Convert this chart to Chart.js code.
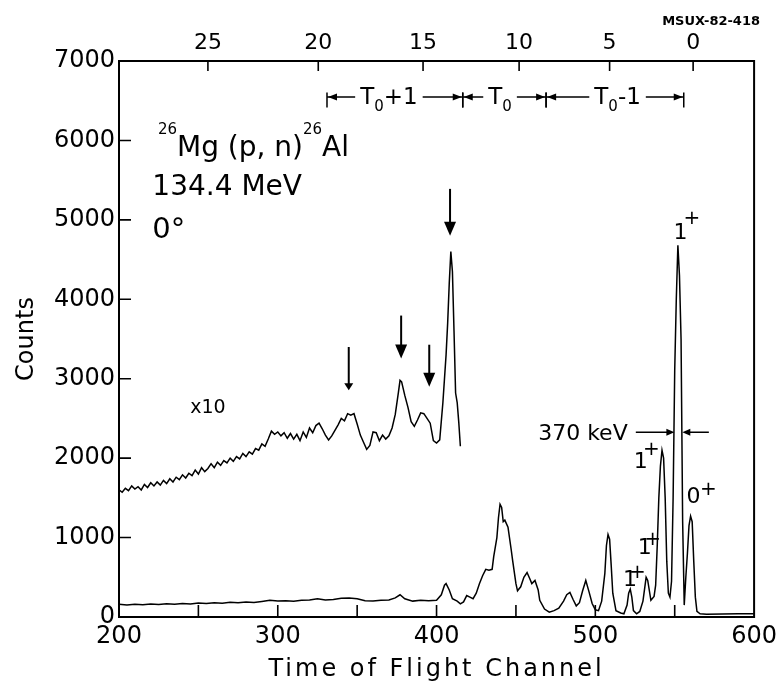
<!DOCTYPE html>
<html><head><meta charset="utf-8">
<script src="https://cdn.jsdelivr.net/npm/chart.js@4.4.0/dist/chart.umd.min.js"></script>
<style>html,body{margin:0;padding:0;background:#fff}canvas{display:block}</style>
</head><body>
<canvas id="c" width="782" height="692" style="width:782px;height:692px"></canvas>
<script>
// ---- data ----
const x10Channels = [200,202,204,206,208,210,212,214,216,218,220,222,224,226,228,230,232,234,236,238,240,242,244,246,248,250,252,254,256,258,260,262,264,266,268,270,272,274,276,278,280,282,284,286,288,290,292,294,296,298,300,302,304,306,308,310,312,314,316,318,320,322,324,326,328,330,332,334,336,338,340,342,344,346,348,350,352,354,356,358,360,362,364,366,368,370,372,374,376,377,378,380,382,384,386,388,390,392,394,396,398,400,402,404,406,407,408,409,410,411,412,413,414,415];
const x10Counts = [1600,1570,1620,1590,1650,1610,1640,1600,1670,1630,1690,1650,1700,1660,1720,1680,1740,1700,1760,1730,1790,1750,1810,1780,1850,1800,1880,1830,1870,1930,1880,1950,1910,1970,1940,2000,1960,2020,1990,2060,2020,2080,2050,2120,2100,2180,2150,2240,2340,2300,2330,2280,2320,2250,2310,2240,2300,2220,2330,2260,2380,2320,2410,2440,2370,2290,2230,2280,2350,2420,2500,2470,2560,2540,2560,2430,2290,2200,2110,2160,2330,2320,2220,2290,2240,2280,2380,2550,2830,2980,2960,2790,2640,2460,2400,2480,2570,2560,2500,2440,2220,2190,2230,2700,3300,3700,4200,4600,4350,3600,2820,2700,2450,2150];

const mainChannels = [200,205,210,215,220,225,230,235,240,245,250,255,260,265,270,275,280,285,290,295,300,305,310,315,320,325,330,335,340,345,350,355,360,365,370,374,377,380,385,390,395,400,403,405,406,408,410,413,415,417,419,421,423,425,427,429,431,433,435,436,438,439,440,441,442,443,445,447,448,450,451,453,455,457,459,460,462,464,465,468,471,474,477,480,482,484,486,488,490,492,494,496,498,500,502,504,506,507,508,509,510,511,513,516,518,520,521,522,523,524,526,528,530,532,533,535,537,538,539,540,541,542,543,544,545,546,547,548,549,550,551,552,553,554,555,556,557,558,559,560,561,562,563,564,566,570,580,590,600];
const mainCounts = [160,150,160,155,165,158,168,162,170,165,175,170,178,172,185,178,190,182,195,210,200,205,198,210,215,230,215,220,235,240,230,205,200,210,215,240,280,230,200,210,205,210,280,400,420,340,230,200,165,190,270,250,230,300,420,520,600,590,600,760,1000,1250,1420,1380,1200,1220,1130,850,700,420,330,380,500,560,470,420,460,340,210,100,60,80,110,200,280,310,220,140,180,330,460,320,170,90,80,200,550,900,1040,980,650,300,80,50,40,150,300,350,250,80,40,70,200,500,460,210,260,400,900,1500,1900,2100,2000,1500,700,300,250,450,1500,3100,4000,4680,4300,3500,1200,150,500,800,1150,1270,1200,700,250,70,40,35,38,40,40];

const xTickValues = [200,250,300,350,400,450,500,550,600];
const yTickValues = [0,1000,2000,3000,4000,5000,6000,7000];
const topTickChannels = [256,325.5,391.5,452,509,561.6];
const topTickLabels = ['25','20','15','10','5','0'];

const FONT = '"DejaVu Sans"';

function rich(ctx, x, y, parts, align) {
  let w = 0;
  for (const [t, s] of parts) { ctx.font = s + 'px ' + FONT; w += ctx.measureText(t).width; }
  let cx = align === 'center' ? x - w / 2 : x;
  ctx.textAlign = 'left'; ctx.textBaseline = 'alphabetic';
  for (const [t, s, dy] of parts) {
    ctx.font = s + 'px ' + FONT;
    ctx.fillText(t, cx, y + (dy || 0));
    cx += ctx.measureText(t).width;
  }
  return w;
}
function head(ctx, x, y, dir, len, half) {
  ctx.beginPath();
  if (dir === 'left') { ctx.moveTo(x, y); ctx.lineTo(x + len, y - half); ctx.lineTo(x + len, y + half); }
  else if (dir === 'right') { ctx.moveTo(x, y); ctx.lineTo(x - len, y - half); ctx.lineTo(x - len, y + half); }
  else { ctx.moveTo(x, y); ctx.lineTo(x - half, y - len); ctx.lineTo(x + half, y - len); }
  ctx.closePath(); ctx.fill();
}

const deco = {
  id: 'deco',
  beforeDraw(chart) {
    const s = chart.scales.x;
    if (s && !s._ls) {
      const orig = s.drawTitle.bind(s);
      s.drawTitle = function () { const c = this.ctx; c.save(); c.letterSpacing = '3px'; orig(); c.restore(); };
      s._ls = true;
    }
  },
  afterDatasetsDraw(chart) {
    const { ctx, chartArea: a, scales: { x, y } } = chart;
    const X = v => x.getPixelForValue(v), Y = v => y.getPixelForValue(v);
    ctx.save();
    ctx.fillStyle = '#000'; ctx.strokeStyle = '#000';
    // frame
    ctx.lineWidth = 2;
    ctx.strokeRect(a.left, a.top, a.right - a.left, a.bottom - a.top);
    // inward ticks
    ctx.lineWidth = 1.6;
    ctx.beginPath();
    xTickValues.forEach(v => { if (v > 200 && v < 600) { ctx.moveTo(X(v), a.bottom); ctx.lineTo(X(v), a.bottom - 12); } });
    yTickValues.forEach(v => { if (v > 0 && v < 7000) { ctx.moveTo(a.left, Y(v)); ctx.lineTo(a.left + 12, Y(v)); } });
    topTickChannels.forEach(v => { ctx.moveTo(X(v), a.top); ctx.lineTo(X(v), a.top + 10); });
    ctx.stroke();

    // title block
    rich(ctx, X(224.5), Y(5804), [['26', 15, -22], ['Mg (p, n)', 28, 0], ['26', 15, -22], ['Al', 28, 0]], 'left');
    rich(ctx, X(221), Y(5314), [['134.4 MeV', 28, 0]], 'left');
    rich(ctx, X(221), Y(4772), [['0°', 29, 0]], 'left');
    rich(ctx, X(256), Y(2564), [['x10', 19, 0]], 'center');

    // T0 brackets
    const segs = [
      [331, 416.5, 370, [['T', 23, 0], ['0', 15, 7], ['+1', 23, 0]]],
      [416.5, 469, 440, [['T', 23, 0], ['0', 15, 7]]],
      [469, 555.7, 514, [['T', 23, 0], ['0', 15, 7], ['-1', 23, 0]]]
    ];
    const ly = Y(6548);
    ctx.lineWidth = 1.5;
    segs.forEach(([c0, c1, cm, parts]) => {
      const w = rich(ctx, X(cm), Y(6459), parts, 'center');
      const tl = X(cm) - w / 2 - 5, tr = X(cm) + w / 2 + 5;
      ctx.beginPath();
      ctx.moveTo(X(c0), ly); ctx.lineTo(tl, ly);
      ctx.moveTo(tr, ly); ctx.lineTo(X(c1), ly);
      ctx.moveTo(X(c0), Y(6602)); ctx.lineTo(X(c0), Y(6413));
      ctx.moveTo(X(c1), Y(6602)); ctx.lineTo(X(c1), Y(6413));
      ctx.stroke();
      head(ctx, X(c0) + 1, ly, 'left', 9, 3.5);
      head(ctx, X(c1) - 1, ly, 'right', 9, 3.5);
    });

    // peak arrows on x10 spectrum
    const arrows = [[344.7, 3399, 2856, 7, 4.5], [377.7, 3795, 3253, 14, 6], [395.4, 3428, 2898, 14, 6], [408.5, 5390, 4800, 14, 6]];
    arrows.forEach(([c, top, tip, hl, hh]) => {
      ctx.lineWidth = 2;
      ctx.beginPath(); ctx.moveTo(X(c), Y(top)); ctx.lineTo(X(c), Y(tip) - hl + 2); ctx.stroke();
      head(ctx, X(c), Y(tip), 'down', hl, hh);
    });

    // state labels
    rich(ctx, X(549.3), Y(4756), [['1', 22, 0]], 'left');
    rich(ctx, X(555.5), Y(5030) + 7, [['+', 20, 0]], 'left');
    rich(ctx, X(524.2), Y(1875), [['1', 22, 0]], 'left');
    rich(ctx, X(530), Y(2125) + 7, [['+', 20, 0]], 'left');
    rich(ctx, X(557.5), Y(1436), [['0', 22, 0]], 'left');
    rich(ctx, X(566), Y(1624) + 7, [['+', 20, 0]], 'left');
    rich(ctx, X(526.8), Y(797), [['1', 22, 0]], 'left');
    rich(ctx, X(530.8), Y(998) + 7, [['+', 20, 0]], 'left');
    rich(ctx, X(517.5), Y(392), [['1', 22, 0]], 'left');
    rich(ctx, X(521.2), Y(580) + 7, [['+', 20, 0]], 'left');

    // 370 keV width marker
    rich(ctx, X(464), Y(2230), [['370 keV', 22, 0]], 'left');
    const ky = Y(2326);
    ctx.lineWidth = 1.5;
    ctx.beginPath(); ctx.moveTo(X(525.5), ky); ctx.lineTo(X(549.8) - 6, ky);
    ctx.moveTo(X(571.5), ky); ctx.lineTo(X(554.8) + 6, ky); ctx.stroke();
    head(ctx, X(549.8), ky, 'right', 8, 3.5);
    head(ctx, X(554.8), ky, 'left', 8, 3.5);

    // figure id
    ctx.font = 'bold 13px ' + FONT; ctx.textAlign = 'right'; ctx.textBaseline = 'middle';
    ctx.fillText('MSUX-82-418', 760, 22);
    ctx.restore();
  }
};

new Chart(document.getElementById('c'), {
  type: 'line',
  data: {
    datasets: [
      { label: 'x10', data: x10Channels.map((c, i) => ({ x: c, y: x10Counts[i] })), borderColor: '#000', borderWidth: 1.5, pointRadius: 0, tension: 0, fill: false },
      { label: 'counts', data: mainChannels.map((c, i) => ({ x: c, y: mainCounts[i] })), borderColor: '#000', borderWidth: 1.5, pointRadius: 0, tension: 0, fill: false }
    ]
  },
  options: {
    responsive: false, animation: false, devicePixelRatio: 1,
    layout: { padding: { left: 0, right: 25, top: 0, bottom: 0 } },
    plugins: { legend: { display: false }, tooltip: { enabled: false } },
    scales: {
      x: {
        type: 'linear', position: 'bottom', min: 200, max: 600,
        afterBuildTicks: s => { s.ticks = xTickValues.map(v => ({ value: v })); },
        afterFit: s => { s.height = 75; },
        ticks: { color: '#000', font: { family: 'DejaVu Sans', size: 24 }, padding: 5, maxRotation: 0, autoSkip: false,
                 callback: v => (v % 100 === 0 ? String(v) : '') },
        grid: { display: false, drawTicks: false }, border: { display: false },
        title: { display: true, text: 'Time of Flight Channel', color: '#000', font: { family: 'DejaVu Sans', size: 24 }, padding: { top: 0, bottom: 8 } }
      },
      x2: {
        type: 'linear', position: 'top', min: 200, max: 600,
        afterBuildTicks: s => { s.ticks = topTickChannels.map(v => ({ value: v })); },
        afterFit: s => { s.height = 61; },
        ticks: { color: '#000', font: { family: 'DejaVu Sans', size: 22 }, padding: 5, maxRotation: 0, autoSkip: false,
                 callback: (v, i) => topTickLabels[i] },
        grid: { display: false, drawTicks: false }, border: { display: false }
      },
      y: {
        type: 'linear', position: 'left', min: 0, max: 7000,
        afterBuildTicks: s => { s.ticks = yTickValues.map(v => ({ value: v })); },
        afterFit: s => { s.width = 119; },
        ticks: { color: '#000', font: { family: 'DejaVu Sans', size: 24 }, padding: 4, autoSkip: false,
                 callback: v => String(v) },
        grid: { display: false, drawTicks: false }, border: { display: false },
        title: { display: true, text: 'Counts', color: '#000', font: { family: 'DejaVu Sans', size: 24 }, padding: { top: 12, bottom: 0 } }
      }
    }
  },
  plugins: [deco]
});
</script>
</body></html>
